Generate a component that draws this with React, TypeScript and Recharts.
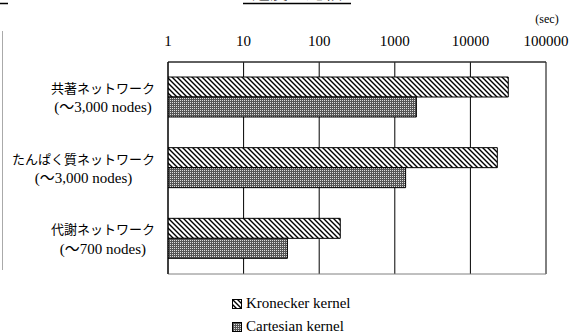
import { BarChart, Bar, XAxis, YAxis, CartesianGrid, ReferenceArea, Legend } from "recharts";

// speed comparison (sec, log scale)
const categories = ["共著ネットワーク", "たんぱく質ネットワーク", "代謝ネットワーク"];
const nodeCounts = ["(〜3,000 nodes)", "(〜3,000 nodes)", "(〜700 nodes)"];
const kronecker = [31700, 22700, 190];
const cartesian = [1930, 1390, 38];
const xTicks = [1, 10, 100, 1000, 10000, 100000];
const seriesNames = ["Kronecker kernel", "Cartesian kernel"];

const data = categories.map((name, i) => ({
  name,
  kronecker: kronecker[i],
  cartesian: cartesian[i],
}));

const SERIF = "'Liberation Serif', 'Times New Roman', Tinos, 'Noto Sans CJK JP', serif";
const JP = "'Noto Sans CJK JP', sans-serif";

const ctx = typeof document !== "undefined" ? document.createElement("canvas").getContext("2d") : null;
function textWidth(s: string, font: string) {
  if (!ctx) return s.length * 10;
  ctx.font = font;
  return ctx.measureText(s).width;
}

// two-line label, lines centred on each other, block right-aligned to the axis
function CategoryTick({ x, y, payload, index }: any) {
  const l1 = payload.value as string;
  const l2 = nodeCounts[index];
  const w = Math.max(textWidth(l1, `13px ${JP}`), textWidth(l2, `15px ${SERIF}`));
  const cx = x - w / 2;
  return (
    <g>
      <text x={cx} y={y - 10} textAnchor="middle" dominantBaseline="central" fontSize={13} fontFamily={JP} fill="#000">
        {l1}
      </text>
      <text x={cx} y={y + 10} textAnchor="middle" dominantBaseline="central" fontSize={15} fontFamily={SERIF} fill="#000">
        {l2}
      </text>
    </g>
  );
}

const patternIds = ["hatch", "dots"];

function renderLegend() {
  return (
    <div style={{ fontFamily: SERIF, fontSize: 15, color: "#000" }}>
      {seriesNames.map((n, i) => (
        <div key={n} style={{ height: 23, lineHeight: "23px", display: "flex", alignItems: "center" }}>
          <svg width={10} height={10} style={{ marginRight: 4 }}>
            <rect x={0.5} y={0.5} width={9} height={9} fill={`url(#${patternIds[i]})`} stroke="#000" />
          </svg>
          <span>{n}</span>
        </div>
      ))}
    </div>
  );
}

export default function App() {
  return (
    <div style={{ position: "fixed", left: 0, top: 0, width: 573, height: 335, background: "#fff", overflow: "hidden" }}>
      <svg width={0} height={0} style={{ position: "absolute" }}>
        <defs>
          <pattern id="hatch" patternUnits="userSpaceOnUse" width={5} height={5}>
            <rect width={5} height={5} fill="#fff" />
            <path d="M-1,-1 L6,6 M-1,4 L1,6 M4,-1 L6,1" stroke="#000" strokeWidth={1.4} />
          </pattern>
          <pattern id="dots" patternUnits="userSpaceOnUse" width={2} height={2}>
            <rect width={2} height={2} fill="#555" />
            <rect width={1} height={1} fill="#ddd" />
          </pattern>
        </defs>
      </svg>

      {/* cropped slide fragments */}
      <svg width={573} height={335} style={{ position: "absolute", left: 0, top: 0 }}>
        <text x={297} y={-1} textAnchor="middle" fontSize={18} fontFamily={JP} fill="#000">速度の比較</text>
        <line x1={243} x2={351} y1={3.5} y2={3.5} stroke="#000" strokeWidth={1.5} />
        <text x={-6} y={-1} fontSize={18} fontFamily={JP} fill="#000">ク</text>
        <line x1={0} x2={8} y1={3.5} y2={3.5} stroke="#000" strokeWidth={1.5} />
        <line x1={2.5} x2={2.5} y1={31} y2={270} stroke="#aaa" />
        <text x={547} y={23} textAnchor="middle" fontSize={12} fontFamily={SERIF} fill="#000">(sec)</text>
      </svg>

      <div style={{ position: "absolute", left: 0, top: 0 }}>
        <BarChart
          width={573}
          height={335}
          data={data}
          layout="vertical"
          margin={{ top: 32, right: 27, left: 0, bottom: 15 }}
          barCategoryGap={15}
          barGap={0}
        >
          <CartesianGrid horizontal={false} stroke="#000" />
          <XAxis
            type="number"
            scale="log"
            domain={[1, 100000]}
            ticks={xTicks}
            orientation="top"
            height={30}
            tickLine={false}
            tickSize={0}
            tickMargin={16}
            axisLine={{ stroke: "#000" }}
            tick={{ fontSize: 15, fontFamily: SERIF, fill: "#000" }}
            allowDataOverflow
          />
          <YAxis
            type="category"
            dataKey="name"
            width={168}
            tickLine={false}
            tickSize={0}
            tickMargin={13}
            axisLine={{ stroke: "#000" }}
            tick={<CategoryTick />}
          />
          <ReferenceArea x1={1} x2={100000} fill="none" stroke="#808080" ifOverflow="visible" />
          <Bar dataKey="kronecker" name={seriesNames[0]} fill="url(#hatch)" stroke="#000" strokeWidth={1} isAnimationActive={false} />
          <Bar dataKey="cartesian" name={seriesNames[1]} fill="url(#dots)" stroke="#000" strokeWidth={1} isAnimationActive={false} />
          <Legend
            layout="vertical"
            align="center"
            verticalAlign="bottom"
            content={renderLegend}
            wrapperStyle={{ left: 232, top: 292, bottom: "auto", width: 180 }}
          />
        </BarChart>
      </div>
    </div>
  );
}
